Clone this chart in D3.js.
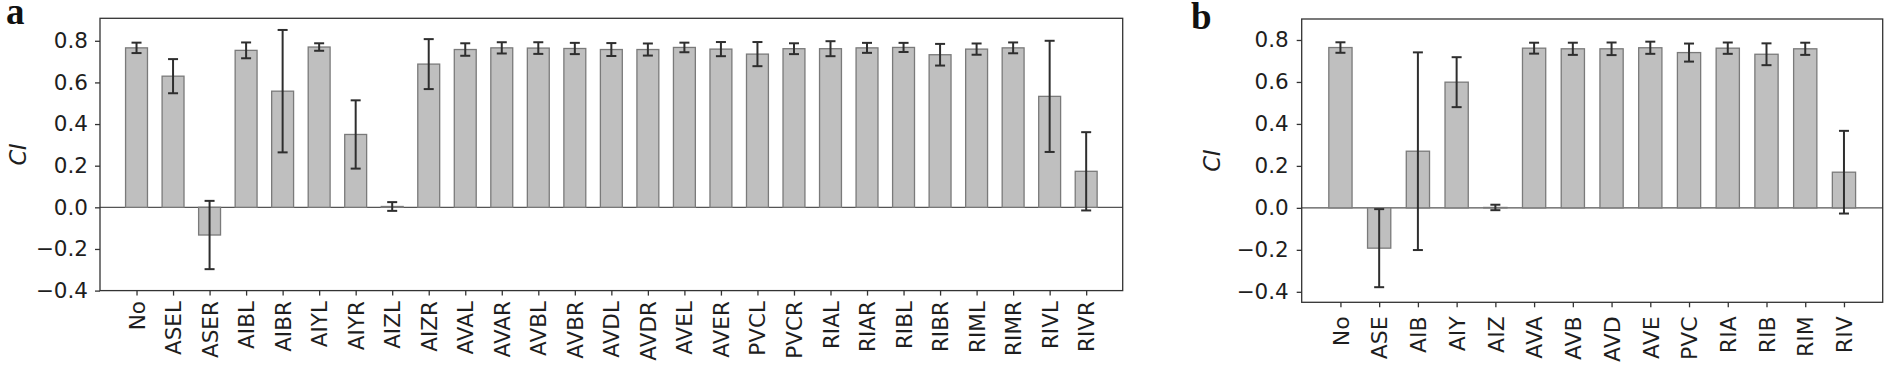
<!DOCTYPE html>
<html><head><meta charset="utf-8">
<script src="https://cdn.jsdelivr.net/npm/d3@7"></script>
<style>body{margin:0;background:#fff}svg{display:block}</style>
</head><body>
<svg id="chart" width="1889" height="366"></svg>
<script>
// ---- Data ----
const catsA = ["No","ASEL","ASER","AIBL","AIBR","AIYL","AIYR","AIZL","AIZR","AVAL","AVAR","AVBL","AVBR","AVDL","AVDR","AVEL","AVER","PVCL","PVCR","RIAL","RIAR","RIBL","RIBR","RIML","RIMR","RIVL","RIVR"];
const valsA = [0.766,0.630,-0.133,0.754,0.558,0.770,0.350,0.004,0.688,0.758,0.766,0.765,0.763,0.758,0.758,0.768,0.760,0.736,0.762,0.762,0.766,0.768,0.733,0.760,0.766,0.533,0.173];
const errA  = [0.025,0.082,0.164,0.038,0.294,0.018,0.164,0.021,0.120,0.030,0.027,0.028,0.027,0.031,0.029,0.023,0.034,0.058,0.026,0.036,0.024,0.022,0.052,0.027,0.026,0.267,0.188];

const catsB = ["No","ASE","AIB","AIY","AIZ","AVA","AVB","AVD","AVE","PVC","RIA","RIB","RIM","RIV"];
const valsB = [0.764,-0.192,0.270,0.599,0.002,0.761,0.758,0.758,0.763,0.740,0.761,0.732,0.758,0.170];
const errB  = [0.025,0.186,0.471,0.119,0.013,0.026,0.029,0.030,0.029,0.043,0.027,0.052,0.029,0.197];

const ticksY = [-0.4,-0.2,0.0,0.2,0.4,0.6,0.8];

// ---- Drawing ----
const svg = d3.select("#chart");
const textColor = "#1e1e1e";

function panel(cfg){
  const g = svg.append("g");
  const x = d3.scalePoint().domain(cfg.cats).range([cfg.left, cfg.right]).padding(1);
  const y = d3.scaleLinear().domain(cfg.ydom).range([cfg.bottom, cfg.top]);
  const bw = x.step()*0.6;
  const data = cfg.cats.map((c,i)=>({c, v:cfg.vals[i], e:cfg.errs[i]}));

  // zero line
  g.append("line").attr("x1",cfg.left).attr("x2",cfg.right)
    .attr("y1",y(0)).attr("y2",y(0)).attr("stroke","#555").attr("stroke-width",1.1);

  // bars
  g.selectAll("rect.bar").data(data).enter().append("rect")
    .attr("x",d=>x(d.c)-bw/2).attr("width",bw)
    .attr("y",d=>y(Math.max(0,d.v))).attr("height",d=>Math.abs(y(d.v)-y(0)))
    .attr("fill","#bfbfbf").attr("stroke","#7a7a7a").attr("stroke-width",1.3);

  // error bars
  const eb = g.selectAll("g.err").data(data).enter().append("g").attr("stroke","#2e2e2e").attr("stroke-width",2);
  eb.append("line").attr("x1",d=>x(d.c)).attr("x2",d=>x(d.c)).attr("y1",d=>y(d.v+d.e)).attr("y2",d=>y(d.v-d.e));
  eb.append("line").attr("x1",d=>x(d.c)-5).attr("x2",d=>x(d.c)+5).attr("y1",d=>y(d.v+d.e)).attr("y2",d=>y(d.v+d.e));
  eb.append("line").attr("x1",d=>x(d.c)-5).attr("x2",d=>x(d.c)+5).attr("y1",d=>y(d.v-d.e)).attr("y2",d=>y(d.v-d.e));

  // frame
  g.append("rect").attr("x",cfg.left).attr("y",cfg.top).attr("width",cfg.right-cfg.left).attr("height",cfg.bottom-cfg.top)
    .attr("fill","none").attr("stroke","#333").attr("stroke-width",1.3);

  // y axis
  const ya = g.append("g").attr("transform",`translate(${cfg.left},0)`)
    .call(d3.axisLeft(y).tickValues(ticksY).tickSize(5).tickPadding(cfg.ypad)
      .tickFormat(d=>d3.format(".1f")(d).replace("-","\u2212")));
  ya.select(".domain").remove();
  ya.selectAll("line").attr("stroke","#333").attr("stroke-width",1.3);
  ya.selectAll("text").attr("font-family","DejaVu Sans").attr("font-size",21.5).attr("fill",textColor);

  // x axis
  const xa = g.append("g").attr("transform",`translate(0,${cfg.bottom})`)
    .call(d3.axisBottom(x).tickSize(5).tickPadding(0));
  xa.select(".domain").remove();
  xa.selectAll("line").attr("stroke","#333").attr("stroke-width",1.3);
  xa.selectAll("text").attr("font-family","DejaVu Sans").attr("font-size",cfg.xfs).attr("fill",textColor)
    .attr("text-anchor","end").attr("dy","0.35em")
    .attr("transform",`translate(0,${cfg.xpad}) rotate(-90)`).attr("x",0).attr("y",0);

  // y label
  g.append("text").attr("transform",`translate(${cfg.ylabX},${(cfg.top+cfg.bottom)/2}) rotate(-90)`)
    .attr("text-anchor","middle").attr("dy","0.35em")
    .attr("font-family","DejaVu Sans").attr("font-style","italic").attr("font-size",22.5).attr("fill",textColor)
    .text("CI");

  // panel letter
  g.append("text").attr("x",cfg.letX).attr("y",cfg.letY)
    .attr("font-family","Liberation Serif").attr("font-weight","bold").attr("font-size",37).attr("fill","#111")
    .text(cfg.letter);
}

panel({cats:catsA, vals:valsA, errs:errA, left:100, right:1122.7, top:18.3, bottom:290.6,
  ydom:[-0.4,0.908], ypad:7, xpad:10.5, xfs:21.5, ylabX:18.5, letter:"a", letX:6, letY:23.5});
panel({cats:catsB, vals:valsB, errs:errB, left:1301.7, right:1882.7, top:19, bottom:302.3,
  ydom:[-0.45,0.9], ypad:8, xpad:14, xfs:22, ylabX:1212, letter:"b", letX:1191, letY:28.5});
</script>
</body></html>
